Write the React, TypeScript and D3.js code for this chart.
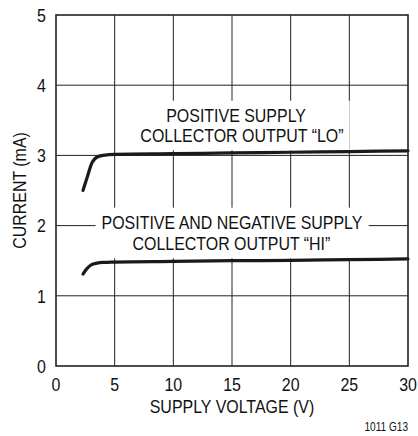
import React, { useEffect, useRef } from 'react';
import * as d3 from 'd3';

// supply voltage (V) / current (mA)
const loVoltage = [2.3, 2.7, 3.0, 3.3, 3.7, 4.5, 5, 10, 15, 20, 25, 30];
const loCurrent = [2.5, 2.71, 2.87, 2.95, 2.99, 3.01, 3.015, 3.025, 3.035, 3.045, 3.055, 3.065];

const hiVoltage = [2.3, 2.6, 3.0, 3.5, 4, 5, 10, 15, 20, 25, 30];
const hiCurrent = [1.31, 1.38, 1.44, 1.465, 1.475, 1.48, 1.49, 1.5, 1.505, 1.515, 1.525];

const xTicks = [0, 5, 10, 15, 20, 25, 30];
const yTicks = [0, 1, 2, 3, 4, 5];

const loLabel = ['POSITIVE SUPPLY', 'COLLECTOR OUTPUT \u201cLO\u201d'];
const hiLabel = ['POSITIVE AND NEGATIVE SUPPLY', 'COLLECTOR OUTPUT \u201cHI\u201d'];

const FONT = '"Liberation Sans", Arial, sans-serif';
const SQUEEZE = 0.84; // condensed look

type G = d3.Selection<SVGGElement, unknown, null, undefined>;

// condensed text: scale the glyphs horizontally around the anchor point
const narrowText = (parent: G, t: string, px: number, py: number, anchor: string, size = 19, rotate = 0) =>
  parent.append('text')
    .attr('transform', `translate(${px},${py})${rotate ? ` rotate(${rotate})` : ''} scale(${SQUEEZE},1)`)
    .attr('text-anchor', anchor)
    .attr('font-family', FONT)
    .attr('font-size', size)
    .attr('fill', '#111')
    .text(t);

const App = () => {
  const svgRef = useRef<SVGSVGElement | null>(null);

  useEffect(() => {
    const svg = d3.select(svgRef.current);
    svg.selectAll('*').remove();

    const margin = { top: 15, right: 10, bottom: 70, left: 56 };
    const width = 418 - margin.left - margin.right;
    const height = 436 - margin.top - margin.bottom;

    const g = svg.append('g').attr('transform', `translate(${margin.left},${margin.top})`) as unknown as G;

    const x = d3.scaleLinear().domain([0, 30]).range([0, width]);
    const y = d3.scaleLinear().domain([0, 5]).range([height, 0]);

    // grid
    g.append('g')
      .selectAll('line')
      .data(xTicks.slice(1, -1))
      .join('line')
      .attr('x1', d => x(d)).attr('x2', d => x(d))
      .attr('y1', 0).attr('y2', height)
      .attr('stroke', '#222').attr('stroke-width', 1);

    g.append('g')
      .selectAll('line')
      .data(yTicks.slice(1, -1))
      .join('line')
      .attr('x1', 0).attr('x2', width)
      .attr('y1', d => y(d)).attr('y2', d => y(d))
      .attr('stroke', '#222').attr('stroke-width', 1);

    // labels with white backing that breaks the grid
    const addLabel = (lines: string[], cx: number[], baselines: number[], padX: number, padY: number) => {
      const lg = g.append('g') as unknown as G;
      const bg = lg.append('rect').attr('fill', '#fff');
      lines.forEach((t, i) => narrowText(lg, t, cx[i], baselines[i], 'middle'));
      const bb = (lg.node() as SVGGElement).getBBox();
      bg.attr('x', bb.x - padX).attr('y', bb.y - padY)
        .attr('width', bb.width + padX * 2).attr('height', bb.height + padY * 2);
    };

    addLabel(loLabel, [x(15.35), x(15.85)], [107, 127], 6, 4);
    addLabel(hiLabel, [x(15.0), x(14.95)], [214, 235], 6, 4);

    const line = d3.line<[number, number]>()
      .x(d => x(d[0]))
      .y(d => y(d[1]))
      .curve(d3.curveMonotoneX);

    const lo = loVoltage.map((v, i) => [v, loCurrent[i]] as [number, number]);
    const hi = hiVoltage.map((v, i) => [v, hiCurrent[i]] as [number, number]);

    [lo, hi].forEach(data => {
      g.append('path')
        .datum(data)
        .attr('fill', 'none')
        .attr('stroke', '#1a1a1a')
        .attr('stroke-width', 3.2)
        .attr('stroke-linecap', 'round')
        .attr('d', line);
    });

    // frame
    g.append('rect')
      .attr('x', 0).attr('y', 0)
      .attr('width', width).attr('height', height)
      .attr('fill', 'none')
      .attr('stroke', '#222')
      .attr('stroke-width', 1.6);

    // tick labels
    xTicks.forEach(d => narrowText(g, String(d), x(d), height + 25, 'middle'));
    yTicks.forEach(d => narrowText(g, String(d), -10, y(d) + 6.8, 'end'));

    // axis titles
    narrowText(g, 'SUPPLY VOLTAGE (V)', width / 2, height + 47, 'middle');
    narrowText(g, 'CURRENT (mA)', 26 - margin.left, height / 2, 'middle', 19, -90);
    narrowText(g, '1011 G13', width, height + 65, 'end', 12);
  }, []);

  return (
    <svg
      ref={svgRef}
      width={418}
      height={436}
      style={{ position: 'absolute', left: 0, top: 0, background: '#fff' }}
    ></svg>
  );
};

export default App;
